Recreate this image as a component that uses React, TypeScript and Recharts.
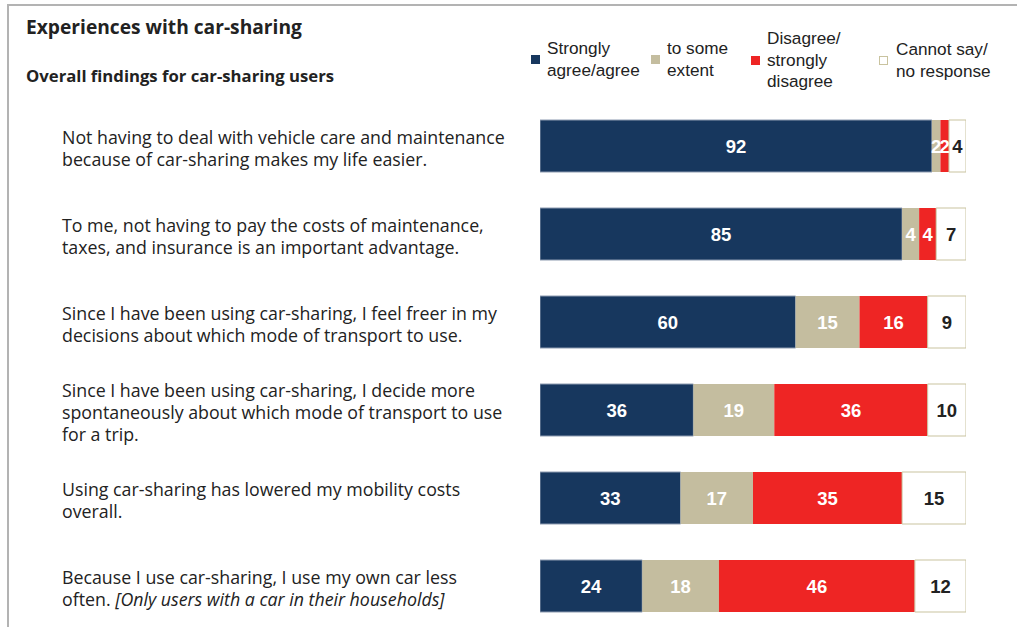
import { BarChart, Bar, XAxis, YAxis, LabelList } from "recharts";

// survey shares in percent, one entry per statement (top to bottom)
const STATEMENTS = ["s1", "s2", "s3", "s4", "s5", "s6"];
const AGREE = [92, 85, 60, 36, 33, 24];
const SOME = [2, 4, 15, 19, 17, 18];
const DISAGREE = [2, 4, 16, 36, 35, 46];
const NO_RESPONSE = [4, 7, 9, 10, 15, 12];

const LABEL_LINES: string[][] = [
  ["Not having to deal with vehicle care and maintenance", "because of car-sharing makes my life easier."],
  ["To me, not having to pay the costs of maintenance,", "taxes, and insurance is an important advantage."],
  ["Since I have been using car-sharing, I feel freer in my", "decisions about which mode of transport to use."],
  ["Since I have been using car-sharing, I decide more", "spontaneously about which mode of transport to use", "for a trip."],
  ["Using car-sharing has lowered my mobility costs", "overall."],
  ["Because I use car-sharing, I use my own car less", "often. "],
];
const ITALIC_TAIL = "[Only users with a car in their households]";

const SERIES = [
  { key: "agree", name: "Strongly agree/agree", lines: ["Strongly", "agree/agree"], color: "#17375e", text: "#fff" },
  { key: "some", name: "to some extent", lines: ["to some", "extent"], color: "#c4bd9f", text: "#fff" },
  { key: "disagree", name: "Disagree/ strongly disagree", lines: ["Disagree/", "strongly", "disagree"], color: "#ee2524", text: "#fff" },
  { key: "none", name: "Cannot say/ no response", lines: ["Cannot say/", "no response"], color: "#ffffff", text: "#222" },
];

const data = STATEMENTS.map((id, i) => ({
  id,
  agree: AGREE[i],
  some: SOME[i],
  disagree: DISAGREE[i],
  none: NO_RESPONSE[i],
}));

const LABEL_FONT = "'Open Sans', Lato, sans-serif";
const ARIAL = "'Liberation Sans', Arial, sans-serif";

const StatementTick = ({ y, payload }: any) => {
  const idx = STATEMENTS.indexOf(payload.value);
  const lines = LABEL_LINES[idx] ?? [];
  const lh = 22;
  const first = y + 1.5 - ((lines.length - 1) * lh) / 2;
  return (
    <text x={62} y={first} textAnchor="start" dominantBaseline="central"
      fontFamily={LABEL_FONT} fontSize={17.8} fill="#222">
      {lines.map((ln, k) => (
        <tspan key={k} x={62} y={first + k * lh}>
          {ln}
          {idx === 5 && k === lines.length - 1 && <tspan fontStyle="italic">{ITALIC_TAIL}</tspan>}
        </tspan>
      ))}
    </text>
  );
};

const LEGEND_POS = [
  { mx: 531, tx: 547, ty: 48 },
  { mx: 651, tx: 667, ty: 48 },
  { mx: 751, tx: 767, ty: 38 },
  { mx: 879, tx: 896, ty: 49 },
];

const ChartLegend = () => (
  <div style={{ position: "absolute", left: 0, top: 0, width: 1017, height: 100 }}>
    {SERIES.map((s, i) => {
      const p = LEGEND_POS[i];
      const n = s.lines.length;
      const midY = p.ty + ((n - 1) * 21.5) / 2;
      return (
        <div key={s.key}>
          <div style={{
            position: "absolute", left: p.mx, top: midY - 4, width: 9, height: 9,
            background: s.color, boxSizing: "border-box",
            border: s.key === "none" ? "1px solid #c9c39f" : "none",
          }} />
          {s.lines.map((ln, k) => (
            <div key={k} style={{
              position: "absolute", left: p.tx, top: p.ty + k * 21.5 - 10, lineHeight: "20px",
              fontFamily: ARIAL, fontSize: 17.2, color: "#222", whiteSpace: "nowrap",
            }}>{ln}</div>
          ))}
        </div>
      );
    })}
  </div>
);

export default function App() {
  return (
    <div style={{ position: "fixed", left: 0, top: 0, width: 1017, height: 627, overflow: "hidden", background: "#fff" }}>
      <div style={{
        position: "absolute", left: 7, top: 4, width: 1017, height: 640,
        borderTop: "2px solid #b3b3b3", borderLeft: "2px solid #b3b3b3",
      }} />
      <div style={{
        position: "absolute", left: 26, top: 13, fontFamily: LABEL_FONT, fontWeight: 700,
        fontSize: 19.2, color: "#222", whiteSpace: "nowrap",
      }}>Experiences with car-sharing</div>
      <div style={{
        position: "absolute", left: 26, top: 64, fontFamily: LABEL_FONT, fontWeight: 700,
        fontSize: 16.7, color: "#222", whiteSpace: "nowrap",
      }}>Overall findings for car-sharing users</div>
      <ChartLegend />
      <div style={{ position: "absolute", left: 0, top: 0 }}>
        <BarChart width={1017} height={630} data={data} layout="vertical"
          margin={{ top: 102, right: 51, bottom: 0, left: 0 }} barSize={52}>
          <XAxis type="number" domain={[0, 100]} allowDataOverflow hide />
          <YAxis type="category" dataKey="id" width={540} axisLine={false} tickLine={false}
            tick={<StatementTick />} />
          {SERIES.map(s => (
            <Bar key={s.key} dataKey={s.key} name={s.name} stackId="a" fill={s.color}
              stroke={s.key === "none" ? "#c9c39f" : s.key === "agree" ? "#8d9bb0" : "none"}
              strokeWidth={1} isAnimationActive={false}>
              <LabelList dataKey={s.key} position="center" fill={s.text}
                fontFamily={ARIAL} fontWeight={700} fontSize={18.5} />
            </Bar>
          ))}
        </BarChart>
      </div>
    </div>
  );
}
